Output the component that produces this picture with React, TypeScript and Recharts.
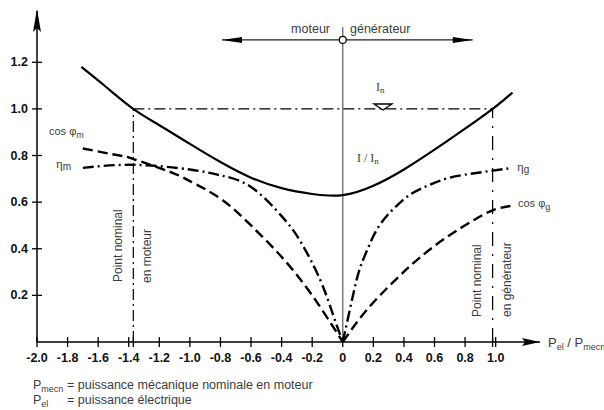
import React from 'react';
import { ComposedChart, Line, XAxis, YAxis, ReferenceLine, ReferenceDot } from 'recharts';

// abscissa: Pel / Pmecn, ordinate: per-unit values
const currentX = [-1.71, -1.55, -1.37, -1.2, -1.0, -0.8, -0.6, -0.4, -0.2, 0, 0.2, 0.4, 0.6, 0.8, 0.98, 1.11];
const currentY = [1.18, 1.095, 1.0, 0.93, 0.85, 0.772, 0.705, 0.66, 0.635, 0.63, 0.67, 0.74, 0.825, 0.915, 1.0, 1.07];

const etaMotorX = [-1.7, -1.37, -1.0, -0.8, -0.6, -0.4, -0.28, -0.15, -0.065, 0];
const etaMotorY = [0.747, 0.76, 0.74, 0.715, 0.665, 0.54, 0.435, 0.27, 0.12, 0];

const cosMotorX = [-1.7, -1.46, -1.37, -1.13, -1.0, -0.8, -0.6, -0.4, -0.2, 0];
const cosMotorY = [0.83, 0.8, 0.785, 0.73, 0.69, 0.615, 0.5, 0.365, 0.2, 0];

const etaGenX = [0, 0.05, 0.1, 0.15, 0.24, 0.37, 0.46, 0.57, 0.7, 0.85, 0.98, 1.09];
const etaGenY = [0, 0.15, 0.29, 0.38, 0.5, 0.595, 0.64, 0.675, 0.705, 0.723, 0.735, 0.745];

const cosGenX = [0, 0.16, 0.35, 0.5, 0.68, 0.85, 0.98, 1.11];
const cosGenY = [0, 0.14, 0.27, 0.36, 0.45, 0.52, 0.565, 0.585];

const xTickValues = [-2.0, -1.8, -1.6, -1.4, -1.2, -1.0, -0.8, -0.6, -0.4, -0.2, 0, 0.2, 0.4, 0.6, 0.8, 1.0];
const yTickValues = [0.2, 0.4, 0.6, 0.8, 1.0, 1.2];

const nominalMotor = -1.37;
const nominalGen = 0.98;
const nominalCurrent = 1.0;
const arrowLevel = 1.296;
const arrowLeft = -0.79;
const arrowRight = 0.85;
const centreTop = 1.35;

const toPoints = (xs: number[], ys: number[]) => xs.map((x, i) => ({ x, y: ys[i] }));

const allXTicks = [...xTickValues, nominalMotor, nominalGen].sort((a, b) => a - b);

const tickFont = '"Liberation Sans", Arial, sans-serif';
const labelGray = '#3c3c3c';

const XTick = (props: any) => {
  const { x, y, payload } = props;
  const v = payload.value;
  const labelled = xTickValues.includes(v);
  return (
    <g>
      <line x1={x} x2={x} y1={y - 5} y2={y + 5} stroke="#000" strokeWidth={1.3} />
      {labelled && (
        <text x={x} y={y + 20} textAnchor="middle" fontFamily={tickFont} fontWeight="bold" fontSize={12.5} fill="#111">
          {v === 0 ? '0' : v.toFixed(1)}
        </text>
      )}
    </g>
  );
};

const YTick = (props: any) => {
  const { x, y, payload } = props;
  return (
    <g>
      <line x1={x - 5} x2={x + 5} y1={y} y2={y} stroke="#000" strokeWidth={1.3} />
      <text x={x - 9} y={y + 4} textAnchor="end" fontFamily={tickFont} fontWeight="bold" fontSize={12.5} fill="#111">
        {payload.value.toFixed(1)}
      </text>
    </g>
  );
};

const upArrow = (p: any) => (
  <polygon points={`${p.cx},${p.cy - 2} ${p.cx - 4},${p.cy + 21} ${p.cx},${p.cy + 17} ${p.cx + 4},${p.cy + 21}`} fill="#000" />
);
const rightArrow = (p: any) => (
  <polygon points={`${p.cx},${p.cy} ${p.cx - 18},${p.cy - 4} ${p.cx - 15},${p.cy} ${p.cx - 18},${p.cy + 4}`} fill="#000" />
);
const leftArrow = (p: any) => (
  <polygon points={`${p.cx},${p.cy} ${p.cx + 20},${p.cy - 3} ${p.cx + 20},${p.cy + 3}`} fill="#000" />
);
const rightArrowThin = (p: any) => (
  <polygon points={`${p.cx},${p.cy} ${p.cx - 20},${p.cy - 3} ${p.cx - 20},${p.cy + 3}`} fill="#000" />
);

const dashDot = '11 4 2 4';
const dashed = '10 5';

export default function App() {
  return (
    <div style={{ position: 'absolute', left: 0, top: 0, width: 604, height: 410, background: '#fff' }}>
      <ComposedChart width={604} height={410} margin={{ top: 11, right: 64, bottom: 38, left: 7 }}>
        <XAxis
          type="number"
          dataKey="x"
          domain={[-2, 1.29]}
          allowDataOverflow
          ticks={allXTicks}
          interval={0}
          tick={<XTick />}
          tickLine={false}
          tickSize={0}
          tickMargin={0}
          height={30}
          axisLine={{ stroke: '#000', strokeWidth: 1.5 }}
        />
        <YAxis
          type="number"
          dataKey="y"
          domain={[0, 1.42]}
          allowDataOverflow
          ticks={yTickValues}
          interval={0}
          tick={<YTick />}
          tickLine={false}
          tickSize={0}
          tickMargin={0}
          width={30}
          axisLine={{ stroke: '#000', strokeWidth: 1.5 }}
        />

        <ReferenceLine segment={[{ x: 0, y: 0 }, { x: 0, y: centreTop }]} stroke="#666" strokeWidth={1.3} />
        <ReferenceLine segment={[{ x: arrowLeft, y: arrowLevel }, { x: arrowRight, y: arrowLevel }]} stroke="#222" strokeWidth={1.2} />
        <ReferenceLine segment={[{ x: nominalMotor, y: 0 }, { x: nominalMotor, y: nominalCurrent }]} stroke="#000" strokeWidth={1.2} strokeDasharray={dashDot} />
        <ReferenceLine segment={[{ x: nominalGen, y: 0 }, { x: nominalGen, y: nominalCurrent }]} stroke="#000" strokeWidth={1.2} strokeDasharray="14 8 2 8" />
        <ReferenceLine segment={[{ x: nominalMotor, y: nominalCurrent }, { x: nominalGen, y: nominalCurrent }]} stroke="#000" strokeWidth={1.4} strokeDasharray={dashDot} />

        <Line data={toPoints(cosMotorX, cosMotorY)} dataKey="y" type="natural" stroke="#000" strokeWidth={2.4} strokeDasharray={dashed} dot={false} isAnimationActive={false} />
        <Line data={toPoints(etaMotorX, etaMotorY)} dataKey="y" type="natural" stroke="#000" strokeWidth={2.4} strokeDasharray={dashDot} dot={false} isAnimationActive={false} />
        <Line data={toPoints(etaGenX, etaGenY)} dataKey="y" type="natural" stroke="#000" strokeWidth={2.4} strokeDasharray={dashDot} dot={false} isAnimationActive={false} />
        <Line data={toPoints(cosGenX, cosGenY)} dataKey="y" type="natural" stroke="#000" strokeWidth={2.4} strokeDasharray={dashed} dot={false} isAnimationActive={false} />
        <Line data={toPoints(currentX, currentY)} dataKey="y" type="natural" stroke="#000" strokeWidth={2.2} dot={false} isAnimationActive={false} />

        <ReferenceDot x={-2} y={1.42} r={0} ifOverflow="visible" shape={upArrow} />
        <ReferenceDot x={1.29} y={0} r={0} ifOverflow="visible" shape={rightArrow} />
        <ReferenceDot x={arrowLeft} y={arrowLevel} r={0} ifOverflow="visible" shape={leftArrow} />
        <ReferenceDot x={arrowRight} y={arrowLevel} r={0} ifOverflow="visible" shape={rightArrowThin} />
        <ReferenceDot x={0} y={arrowLevel} r={3.5} ifOverflow="visible" fill="#fff" stroke="#000" strokeWidth={1.2} />
      </ComposedChart>

      <svg width={604} height={410} style={{ position: 'absolute', left: 0, top: 0, pointerEvents: 'none' }} fontFamily={tickFont}>
        <text x={330} y={33} textAnchor="end" fontSize={12.5} fill={labelGray}>moteur</text>
        <text x={350} y={33} fontSize={12.5} fill={labelGray}>générateur</text>

        <text x={49} y={135} fontSize={11} fill={labelGray}>
          cos φ<tspan dy={3} fontSize={9}>m</tspan>
        </text>
        <text x={56} y={168} fontSize={13} fill={labelGray} fontFamily='"Liberation Serif", serif'>
          η<tspan dy={2} fontSize={10} fontFamily={tickFont}>m</tspan>
        </text>
        <text x={517} y={171} fontSize={13} fill={labelGray} fontFamily='"Liberation Serif", serif'>
          η<tspan dy={2} fontSize={10} fontFamily={tickFont}>g</tspan>
        </text>
        <text x={518} y={207} fontSize={11} fill={labelGray}>
          cos φ<tspan dy={3} fontSize={9}>g</tspan>
        </text>

        <text x={357} y={162} fontSize={12} fill={labelGray} fontFamily='"Liberation Serif", serif'>
          I / I<tspan dy={2} fontSize={9}>n</tspan>
        </text>
        <text x={376} y={91} fontSize={12} fill={labelGray} fontFamily='"Liberation Serif", serif'>
          I<tspan dy={2} fontSize={9}>n</tspan>
        </text>
        <polygon points="374,104 392,104 383,110" fill="#fff" stroke="#000" strokeWidth={1.3} />

        <text transform="translate(122,282) rotate(-90)" fontSize={12} fill={labelGray}>Point nominal</text>
        <text transform="translate(151,283) rotate(-90)" fontSize={12} fill={labelGray}>en moteur</text>
        <text transform="translate(481,317) rotate(-90)" fontSize={12} fill={labelGray}>Point nominal</text>
        <text transform="translate(511,317) rotate(-90)" fontSize={12} fill={labelGray}>en générateur</text>

        <text x={548} y={347} fontSize={13} fill={labelGray}>
          P<tspan dy={3} fontSize={9}>el</tspan>
          <tspan dy={-3}> / P</tspan>
          <tspan dy={3} fontSize={9}>mecn</tspan>
        </text>

        <text x={33} y={389} fontSize={12.5} fill={labelGray}>
          P<tspan dy={3} fontSize={9}>mecn</tspan>
        </text>
        <text x={67} y={389} fontSize={12.5} fill={labelGray}>= puissance mécanique nominale en moteur</text>
        <text x={33} y={404} fontSize={12.5} fill={labelGray}>
          P<tspan dy={3} fontSize={9}>el</tspan>
        </text>
        <text x={67} y={404} fontSize={12.5} fill={labelGray}>= puissance électrique</text>
      </svg>
    </div>
  );
}
